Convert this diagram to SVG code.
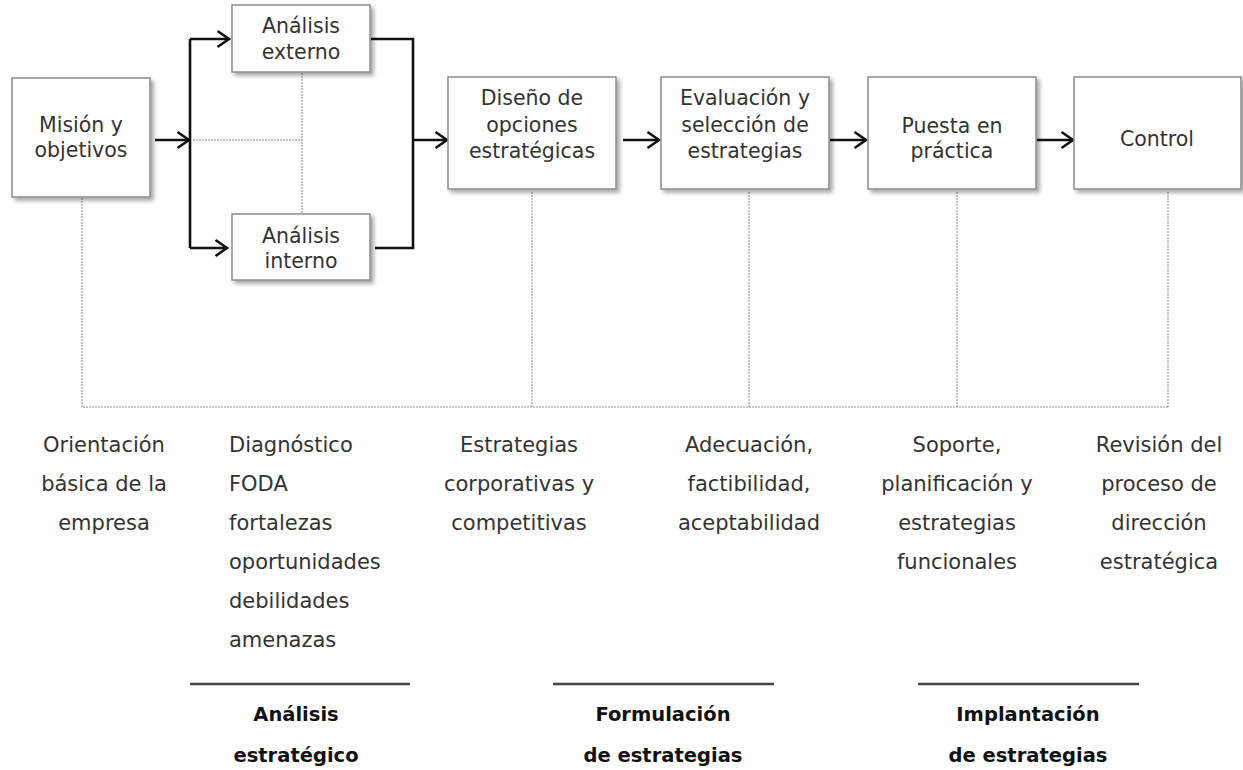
<svg xmlns="http://www.w3.org/2000/svg" width="1243" height="770" viewBox="0 0 1243 770">
<defs>
<filter id="sh" x="-10%" y="-10%" width="125%" height="130%">
<feDropShadow dx="3" dy="3" stdDeviation="2" flood-color="#000" flood-opacity="0.35"/>
</filter>
<marker id="ah" markerUnits="userSpaceOnUse" markerWidth="16" markerHeight="20" refX="13" refY="10" orient="auto">
<path d="M1.5,2 L13,10 L1.5,18" fill="none" stroke="#111" stroke-width="2.6"/>
</marker>
</defs>
<style>
.box{fill:#fff;stroke:#8c8c8c;stroke-width:1.5;filter:url(#sh)}
.t{font-family:"DejaVu Sans",sans-serif;font-size:20.5px;fill:#333;text-anchor:middle}
.d{font-family:"DejaVu Sans",sans-serif;font-size:21px;fill:#333;text-anchor:middle}
.l{text-anchor:start}
.b{font-family:"DejaVu Sans",sans-serif;font-size:19.5px;font-weight:bold;fill:#111;text-anchor:middle}
.ar{fill:none;stroke:#111;stroke-width:2.6}
.arm{fill:none;stroke:#111;stroke-width:2.6;marker-end:url(#ah)}
.dot{fill:none;stroke:#8a8a8a;stroke-width:1;stroke-dasharray:2,1}
.sep{stroke:#444;stroke-width:2.5}
</style>
<rect width="1243" height="770" fill="#fff"/>

<g id="connectors">
<path class="dot" d="M193,140 H302 M302,73 V214"/>
<path class="dot" d="M82,198 V407 H1168 M532,192 V407 M749,192 V407 M957,192 V407 M1168,192 V407"/>
<path class="arm" d="M155,140 H189"/>
<path class="ar" d="M190,248 V39"/>
<path class="arm" d="M190,39 H229"/>
<path class="arm" d="M190,248 H227"/>
<path class="ar" d="M371,39 H413 V248 H375"/>
<path class="arm" d="M413,140 H447"/>
<path class="arm" d="M623,140 H659"/>
<path class="arm" d="M830,140 H866"/>
<path class="arm" d="M1037,140 H1073"/>
</g>

<g id="n-mision">
<rect class="box" x="12" y="78" width="138" height="119"/>
<text class="t" x="81" y="132">Misión y</text>
<text class="t" x="81" y="157">objetivos</text>
</g>
<g id="n-externo">
<rect class="box" x="232" y="5" width="138" height="67"/>
<text class="t" x="301" y="33">Análisis</text>
<text class="t" x="301" y="59">externo</text>
</g>
<g id="n-interno">
<rect class="box" x="232" y="214" width="138" height="66"/>
<text class="t" x="301" y="243">Análisis</text>
<text class="t" x="301" y="268">interno</text>
</g>
<g id="n-diseno">
<rect class="box" x="448" y="77" width="168" height="112"/>
<text class="t" x="532" y="105">Diseño de</text>
<text class="t" x="532" y="132">opciones</text>
<text class="t" x="532" y="158">estratégicas</text>
</g>
<g id="n-evaluacion">
<rect class="box" x="661" y="77" width="168" height="112"/>
<text class="t" x="745" y="105">Evaluación y</text>
<text class="t" x="745" y="132">selección de</text>
<text class="t" x="745" y="158">estrategias</text>
</g>
<g id="n-puesta">
<rect class="box" x="868" y="77" width="168" height="112"/>
<text class="t" x="952" y="133">Puesta en</text>
<text class="t" x="952" y="158">práctica</text>
</g>
<g id="n-control">
<rect class="box" x="1074" y="77" width="167" height="112"/>
<text class="t" x="1157" y="146">Control</text>
</g>

<g id="desc">
<text class="d" x="104" y="452">Orientación</text>
<text class="d" x="104" y="491">básica de la</text>
<text class="d" x="104" y="530">empresa</text>
<text class="d l" x="229" y="452">Diagnóstico</text>
<text class="d l" x="229" y="491">FODA</text>
<text class="d l" x="229" y="530">fortalezas</text>
<text class="d l" x="229" y="569">oportunidades</text>
<text class="d l" x="229" y="608">debilidades</text>
<text class="d l" x="229" y="647">amenazas</text>
<text class="d" x="519" y="452">Estrategias</text>
<text class="d" x="519" y="491">corporativas y</text>
<text class="d" x="519" y="530">competitivas</text>
<text class="d" x="749" y="452">Adecuación,</text>
<text class="d" x="749" y="491">factibilidad,</text>
<text class="d" x="749" y="530">aceptabilidad</text>
<text class="d" x="957" y="452">Soporte,</text>
<text class="d" x="957" y="491">planificación y</text>
<text class="d" x="957" y="530">estrategias</text>
<text class="d" x="957" y="569">funcionales</text>
<text class="d" x="1159" y="452">Revisión del</text>
<text class="d" x="1159" y="491">proceso de</text>
<text class="d" x="1159" y="530">dirección</text>
<text class="d" x="1159" y="569">estratégica</text>
</g>

<g id="phases">
<line class="sep" x1="190" y1="684" x2="410" y2="684"/>
<line class="sep" x1="553" y1="684" x2="774" y2="684"/>
<line class="sep" x1="918" y1="684" x2="1139" y2="684"/>
<text class="b" x="296" y="721">Análisis</text>
<text class="b" x="296" y="762">estratégico</text>
<text class="b" x="663" y="721">Formulación</text>
<text class="b" x="663" y="762">de estrategias</text>
<text class="b" x="1028" y="721">Implantación</text>
<text class="b" x="1028" y="762">de estrategias</text>
</g>
</svg>
